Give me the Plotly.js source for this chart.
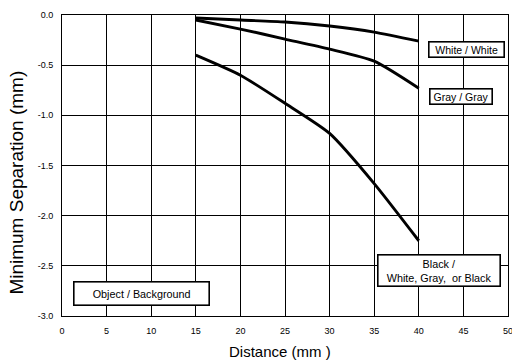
<!DOCTYPE html>
<html><head><meta charset="utf-8">
<script src="https://cdn.plot.ly/plotly-3.0.1.min.js"></script>
<style>html,body{margin:0;padding:0;background:#fff}#c{width:512px;height:362px}</style>
</head><body><div id="c"></div>
<script>
const distance = [15, 20, 25, 30, 35, 40];
const whiteWhite = [-0.03, -0.05, -0.07, -0.11, -0.17, -0.26];
const grayGray = [-0.05, -0.14, -0.24, -0.34, -0.46, -0.73];
const blackAny = [-0.40, -0.60, -0.88, -1.18, -1.68, -2.25];
const xTicks = [0, 5, 10, 15, 20, 25, 30, 35, 40, 45, 50];
const yTicks = [0, -0.5, -1, -1.5, -2, -2.5, -3];
const yTickText = ["0.0", "-0.5", "-1.0", "-1.5", "-2.0", "-2.5", "-3.0"];
const seriesLabels = ['White / White', 'Gray / Gray', 'Black /<br>White, Gray,  or Black'];
const legendTitle = 'Object / Background';
const xTitle = 'Distance (mm )';
const yTitle = 'Minimum Separation (mm)';

const line = {color: '#000', width: 2.9, shape: 'spline', smoothing: 0.6};
const traces = [whiteWhite, grayGray, blackAny].map(v => ({
  x: distance, y: v, mode: 'lines', line: line, hoverinfo: 'skip'
}));
const font = {family: 'Liberation Sans, Arial, sans-serif', color: '#000'};
function ann(x, y, text, w, h, size) {
  return {x: x, y: y, xref: 'x', yref: 'y', text: text, showarrow: false,
    width: w, height: h, align: 'center', valign: 'middle',
    bgcolor: '#fff', bordercolor: '#000', borderwidth: 1.6, borderpad: 0,
    font: Object.assign({size: size}, font)};
}
const layout = {
  width: 512, height: 362,
  margin: {l: 62, r: 4, t: 15, b: 46},
  showlegend: false,
  paper_bgcolor: '#fff', plot_bgcolor: '#fff',
  font: font,
  xaxis: {range: [0, 50], tickvals: xTicks, ticks: '', showgrid: true, gridcolor: '#000', gridwidth: 1,
    zeroline: false, showline: true, linecolor: '#000', linewidth: 1, mirror: true,
    ticklabeloverflow: 'allow', ticklabelstandoff: 6,
    tickfont: Object.assign({size: 9}, font)},
  yaxis: {range: [-3, 0], tickvals: yTicks, ticktext: yTickText, ticks: '', showgrid: true, gridcolor: '#000', gridwidth: 1,
    zeroline: false, showline: true, linecolor: '#000', linewidth: 1, mirror: true,
    ticklabelstandoff: 6,
    tickfont: Object.assign({size: 9}, font)},
  annotations: [
    ann(45.4, -0.342, seriesLabels[0], 74, 14, 10.5),
    ann(44.7, -0.81, seriesLabels[1], 61, 14, 10.5),
    ann(42.3, -2.547, seriesLabels[2], 121, 30, 10.8),
    ann(8.86, -2.772, legendTitle, 134, 22, 10.8),
    {x: 0.489, y: -0.117, xref: 'paper', yref: 'paper', text: xTitle, showarrow: false,
      xanchor: 'center', yanchor: 'middle', font: Object.assign({size: 15}, font)},
    {x: -0.101, y: 0.443, xref: 'paper', yref: 'paper', text: yTitle, showarrow: false, textangle: -90,
      xanchor: 'center', yanchor: 'middle', font: Object.assign({size: 19}, font)}
  ]
};
Plotly.newPlot('c', traces, layout, {displayModeBar: false, staticPlot: true});
</script></body></html>
